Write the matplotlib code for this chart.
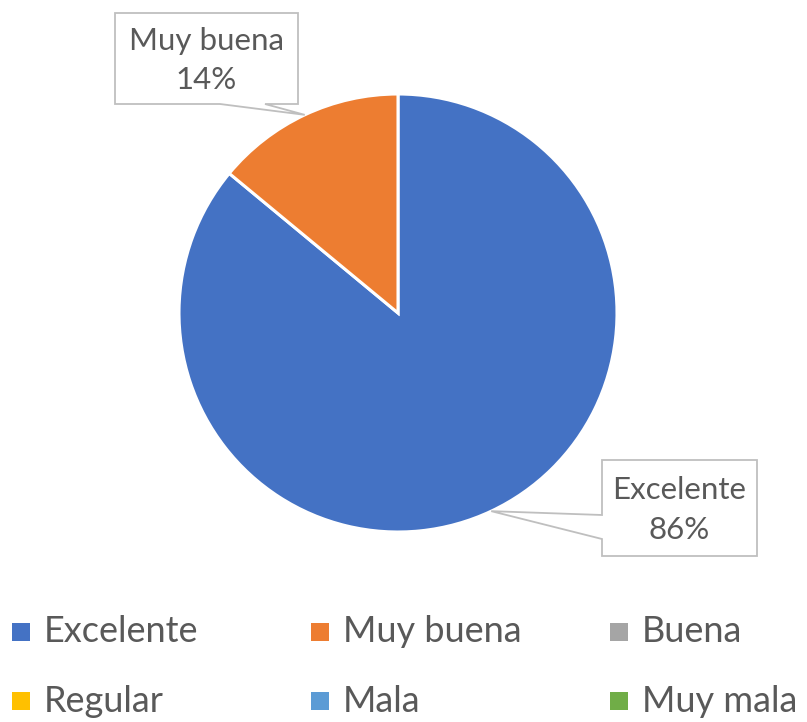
import numpy as np
import matplotlib
matplotlib.use("Agg")
import matplotlib.pyplot as plt
from matplotlib.patches import Polygon

plt.rcParams['font.family'] = ['Lato', 'DejaVu Sans']

# Survey answers and their share (%)
categories = ['Excelente', 'Muy buena', 'Buena', 'Regular', 'Mala', 'Muy mala']
values = [86, 14, 0, 0, 0, 0]
colors = ['#4472C4', '#ED7D31', '#A5A5A5', '#FFC000', '#5B9BD5', '#70AD47']

TEXT_COLOR = '#595959'
BOX_EDGE = '#BFBFBF'

W, H = 807, 722
PX = 219.0  # pixels per unit of pie radius

fig = plt.figure(figsize=(W / 100, H / 100), dpi=100)
ax = fig.add_axes([0, 0, 1, 1])

# only non-empty slices are drawn
shown = [i for i, v in enumerate(values) if v > 0]
wedges, _ = ax.pie([values[i] for i in shown], colors=[colors[i] for i in shown],
                   startangle=90, counterclock=False, radius=1.0, center=(0, 0),
                   wedgeprops=dict(edgecolor='white', linewidth=2.2))

cx, cy = 398, 313
ax.set_xlim(-cx / PX, (W - cx) / PX)
ax.set_ylim(-(H - cy) / PX, cy / PX)
ax.set_aspect('auto')
ax.axis('off')


def px(x, y):
    """pixel position -> data units"""
    return (x - cx) / PX, (cy - y) / PX


def callout(wedge, box, side, base, text):
    """box = (left, top, right, bottom) in pixels; pointer leaves from `side`"""
    mid = np.deg2rad((wedge.theta1 + wedge.theta2) / 2)
    tip = (np.cos(mid), np.sin(mid))
    l, t, r, b = box
    tl, tr, br, bl = px(l, t), px(r, t), px(r, b), px(l, b)
    if side == 'bottom':
        verts = [tl, tr, br, px(base[1], b), tip, px(base[0], b), bl]
    else:
        verts = [tl, tr, br, bl, px(l, base[1]), tip, px(l, base[0])]
    ax.add_patch(Polygon(verts, closed=True, facecolor='white', edgecolor=BOX_EDGE,
                         linewidth=1.3, zorder=3))
    mx, my = px((l + r) / 2, (t + b) / 2 + 2)
    ax.text(mx, my, text, ha='center', va='center', fontsize=22.5, color=TEXT_COLOR,
            linespacing=1.5, zorder=4)


pct = {categories[i]: values[i] for i in shown}
callout(wedges[1], (115, 13, 298, 104), 'bottom', (220, 265),
        f"Muy buena\n{pct['Muy buena']}%")
callout(wedges[0], (602, 460, 757, 556), 'left', (515, 539),
        f"Excelente\n{pct['Excelente']}%")

# legend: 3 columns x 2 rows
col_x = [12, 311, 610]
row_y = [632, 701]
for k, (name, col) in enumerate(zip(categories, colors)):
    x0, y0 = col_x[k % 3], row_y[k // 3]
    mx, my = px(x0 + 9, y0)
    ax.scatter([mx], [my], marker='s', s=170, color=col, linewidths=0, zorder=3)
    tx, ty = px(x0 + 32, y0)
    ax.text(tx, ty, name, ha='left', va='center', fontsize=26, color=TEXT_COLOR)

fig.savefig('out.png', dpi=100)
